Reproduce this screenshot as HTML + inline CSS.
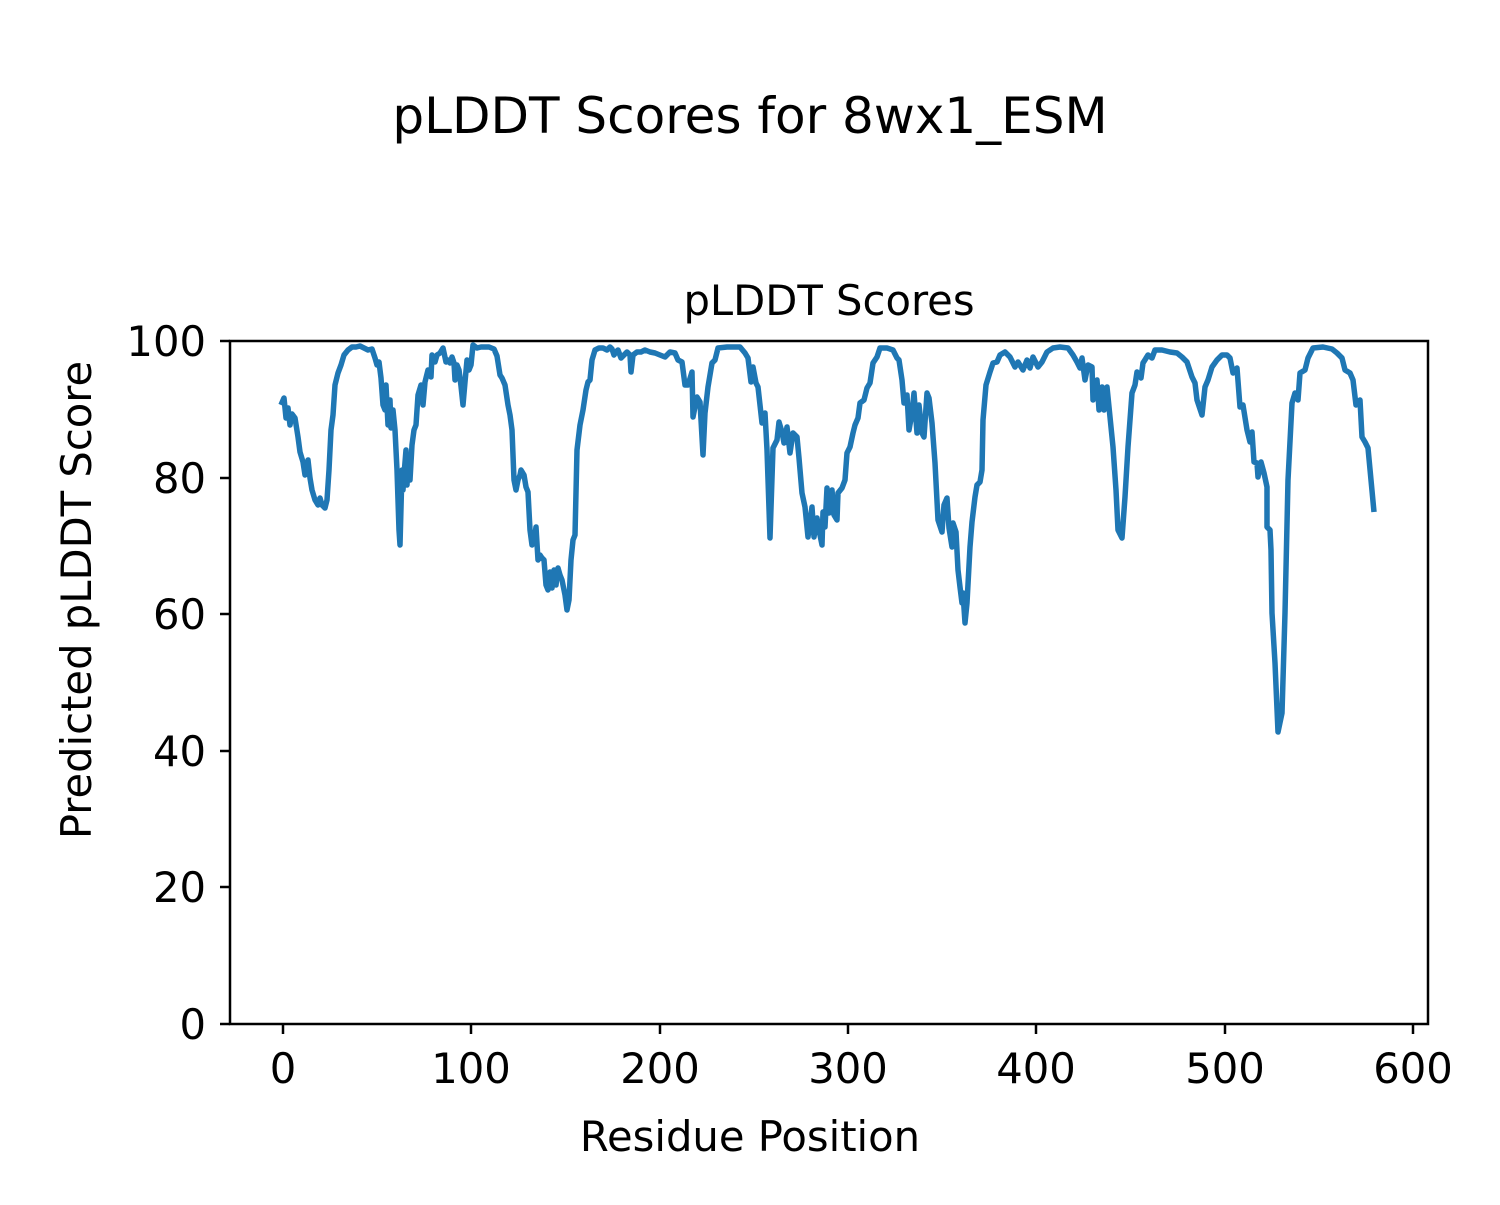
<!DOCTYPE html>
<html><head><meta charset="utf-8"><style>body{margin:0;background:#fff}</style></head><body>
<svg width="1500" height="1200" viewBox="0 0 1500 1200" xmlns="http://www.w3.org/2000/svg" font-family="'DejaVu Sans','Liberation Sans',sans-serif">
<rect width="1500" height="1200" fill="#fff"/>
<text x="750" y="133" font-size="50" text-anchor="middle">pLDDT Scores for 8wx1_ESM</text>
<text x="829" y="315" font-size="41.7" text-anchor="middle">pLDDT Scores</text>
<polyline fill="none" stroke="#1f77b4" stroke-width="5.5" stroke-linejoin="round" points="
281,405 284,398 286,418 288,408 290,425 292,414 295,418 298,437 300,452 303,462 305,475 308,460 310,478 312,490 315,500 318,505 320,498 322,505 325,508 327,500 329,470 331,430 333,415 335,385 338,373 341,365 344,355 348,350 352,347 356,347 360,346 364,348 368,350 372,349 375,358 377,365 379,362 381,378 383,405 385,410 386,385 388,425 390,400 391,428 393,410 395,430 397,470 399,530 400,545 402,470 403,490 404,475 406,450 407,485 408,460 410,480 412,445 414,430 416,425 418,395 421,385 423,405 425,382 428,370 431,377 432,355 435,362 437,355 440,353 443,348 446,362 448,360 450,363 452,357 454,363 455,380 457,365 459,370 461,386 463,405 465,382 467,360 469,370 471,365 473,345 477,348 481,347 485,347 489,347 494,349 497,356 500,375 502,378 505,385 508,405 510,415 512,430 514,480 516,490 518,480 520,475 521,470 524,475 526,487 528,492 530,530 532,545 534,542 536,527 538,560 540,555 542,558 544,560 546,585 548,590 550,572 552,588 554,570 556,585 558,568 560,575 562,580 565,595 567,610 569,600 571,560 573,540 575,535 577,450 580,425 583,410 586,390 588,382 590,380 592,360 595,350 599,348 603,348 607,350 610,347 612,349 614,355 616,352 618,350 621,358 624,355 627,352 630,355 631,372 633,355 637,352 641,352 645,350 650,352 655,353 660,355 665,357 670,352 675,353 678,360 682,362 685,385 688,385 692,372 693,417 697,397 700,402 703,455 705,413 708,387 712,363 715,360 718,348 727,347 740,347 745,353 748,358 751,382 753,367 756,383 758,387 762,423 765,413 767,450 770,538 773,448 777,440 779,422 782,432 784,443 787,427 790,453 793,433 797,437 799,458 802,493 805,507 808,537 812,507 814,537 817,518 819,530 822,545 823,512 825,527 827,488 829,513 832,490 834,515 837,520 838,493 842,488 845,480 847,453 850,447 853,433 855,425 858,418 860,403 864,400 867,388 870,383 873,363 877,357 880,348 887,348 893,350 897,358 899,360 902,380 904,403 907,395 909,430 912,413 914,393 917,433 919,405 922,433 924,437 927,393 929,398 932,423 935,463 938,520 942,532 944,505 947,498 949,528 952,547 953,523 956,532 958,570 960,587 962,603 963,593 965,623 967,603 970,547 972,522 975,497 977,485 980,482 982,470 983,420 986,385 990,372 993,363 997,362 1000,355 1005,352 1010,357 1015,367 1018,362 1023,370 1027,360 1030,368 1033,357 1038,367 1042,362 1047,352 1053,348 1060,347 1068,348 1073,355 1077,362 1080,368 1082,358 1085,380 1088,365 1092,367 1093,400 1097,380 1099,410 1102,387 1104,410 1107,387 1110,417 1113,447 1116,490 1118,530 1122,538 1125,497 1128,447 1132,393 1135,385 1137,372 1141,378 1143,363 1148,355 1152,358 1155,350 1162,350 1170,352 1177,353 1182,357 1187,362 1192,377 1195,383 1197,400 1202,415 1205,387 1208,380 1212,367 1217,360 1222,355 1227,355 1230,358 1233,373 1237,368 1240,407 1243,405 1247,430 1250,442 1252,432 1254,462 1257,463 1258,477 1261,462 1264,473 1267,487 1267,527 1270,530 1271,550 1272,613 1275,663 1278,732 1282,713 1285,613 1288,480 1292,403 1295,393 1298,400 1300,373 1305,370 1308,358 1313,348 1323,347 1332,349 1337,353 1342,358 1345,370 1350,373 1353,380 1356,405 1360,400 1362,437 1365,442 1368,448 1371,480 1374,512"/>
<rect x="230" y="341" width="1198" height="683" fill="none" stroke="#000" stroke-width="2.5"/>
<g stroke="#000" stroke-width="2.5">
<line x1="283" y1="1024" x2="283" y2="1034"/><line x1="471" y1="1024" x2="471" y2="1034"/><line x1="660" y1="1024" x2="660" y2="1034"/><line x1="848" y1="1024" x2="848" y2="1034"/><line x1="1036" y1="1024" x2="1036" y2="1034"/><line x1="1225" y1="1024" x2="1225" y2="1034"/><line x1="1413" y1="1024" x2="1413" y2="1034"/>
<line x1="220" y1="1024" x2="230" y2="1024"/><line x1="220" y1="887" x2="230" y2="887"/><line x1="220" y1="751" x2="230" y2="751"/><line x1="220" y1="614" x2="230" y2="614"/><line x1="220" y1="478" x2="230" y2="478"/><line x1="220" y1="341" x2="230" y2="341"/>
</g>
<g font-size="41.7" text-anchor="middle">
<text x="283" y="1083">0</text><text x="471" y="1083">100</text><text x="660" y="1083">200</text><text x="848" y="1083">300</text><text x="1036" y="1083">400</text><text x="1225" y="1083">500</text><text x="1413" y="1083">600</text>
</g>
<g font-size="41.7" text-anchor="end">
<text x="206" y="1039">0</text><text x="206" y="902">20</text><text x="206" y="766">40</text><text x="206" y="629">60</text><text x="206" y="493">80</text><text x="206" y="356">100</text>
</g>
<text x="750" y="1151" font-size="41.7" text-anchor="middle">Residue Position</text>
<text transform="translate(91,600) rotate(-90)" font-size="41.7" text-anchor="middle">Predicted pLDDT Score</text>
</svg>
</body></html>
